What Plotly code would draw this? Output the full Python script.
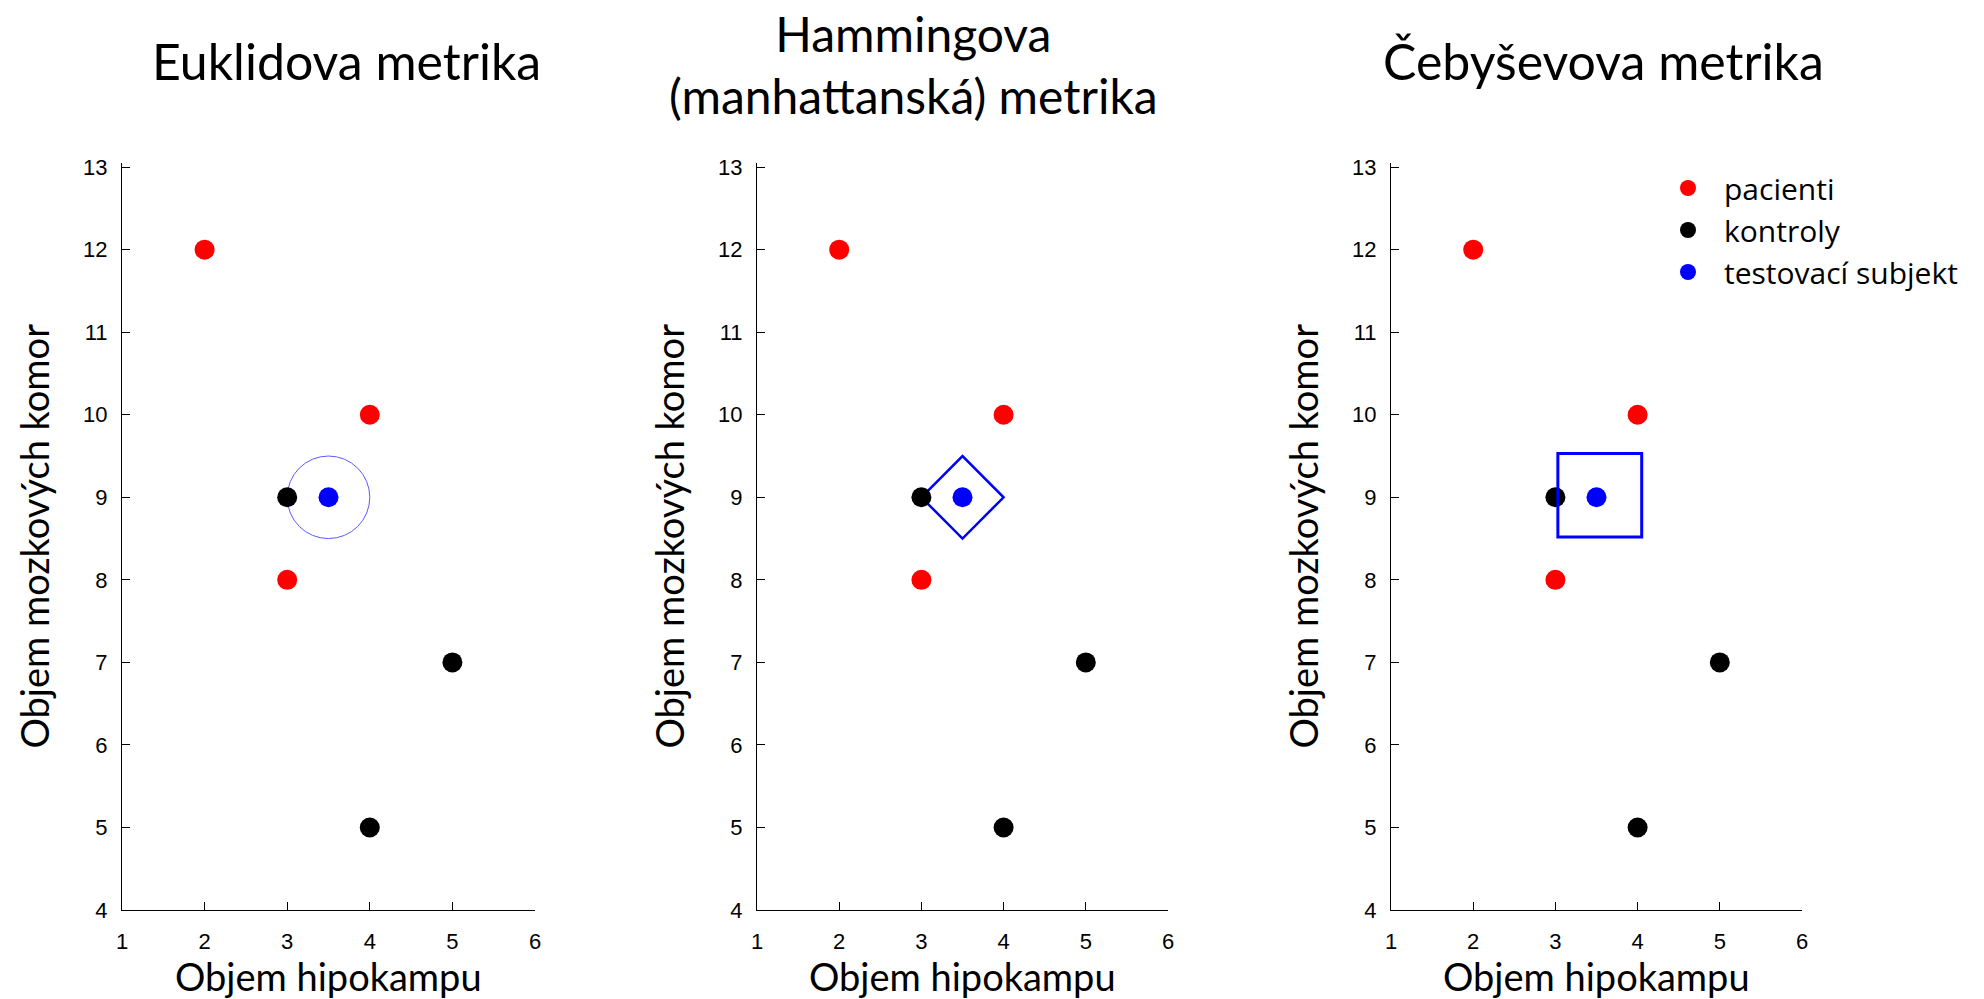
import plotly.graph_objects as go

# ---- data ----
pacienti_x = [2, 4, 3]
pacienti_y = [12, 10, 8]
kontroly_x = [3, 5, 4]
kontroly_y = [9, 7, 5]
test_x = [3.5]
test_y = [9]
radius = 0.5
square_bounds = [3.03, 8.52, 4.05, 9.53]  # x0, y0, x1, y1 (as drawn in reference)

titles = ["Euklidova metrika", "Hammingova<br>(manhattanská) metrika", "Čebyševova metrika"]
title_x_px = [346.7, 913, 1603.8]
title_y_px = [61, 64, 61]
title_size = [50, 48, 50]
xlabel = "Objem hipokampu"
ylabel = "Objem mozkových komor"
legend_names = ["pacienti", "kontroly", "testovací subjekt"]

W, H = 1984, 999
x_dom_px = [(122, 535), (757, 1168), (1391, 1802)]
y_dom_px = (910, 163)

TICKFONT = dict(family="Liberation Sans, Arial, sans-serif", size=22, color="black")
TXTFONT = "Lato, Open Sans, sans-serif"

fig = go.Figure()
for i in range(3):
    xa = "x" if i == 0 else f"x{i+1}"
    ya = "y" if i == 0 else f"y{i+1}"
    show = (i == 2)
    fig.add_trace(go.Scatter(x=pacienti_x, y=pacienti_y, mode="markers", name=legend_names[0],
                             marker=dict(color="#ff0000", size=20), xaxis=xa, yaxis=ya,
                             showlegend=show))
    fig.add_trace(go.Scatter(x=kontroly_x, y=kontroly_y, mode="markers", name=legend_names[1],
                             marker=dict(color="#000000", size=20), xaxis=xa, yaxis=ya,
                             showlegend=show))
    fig.add_trace(go.Scatter(x=test_x, y=test_y, mode="markers", name=legend_names[2],
                             marker=dict(color="#0000ff", size=20), xaxis=xa, yaxis=ya,
                             showlegend=show))

layout = {}
for i in range(3):
    kx = "xaxis" if i == 0 else f"xaxis{i+1}"
    ky = "yaxis" if i == 0 else f"yaxis{i+1}"
    yref = "y" if i == 0 else f"y{i+1}"
    xref = "x" if i == 0 else f"x{i+1}"
    layout[kx] = dict(domain=[x_dom_px[i][0] / W, x_dom_px[i][1] / W], range=[1, 6],
                      tickvals=[1, 2, 3, 4, 5, 6], showgrid=False, zeroline=False,
                      showline=True, linecolor="black", linewidth=1.2,
                      ticks="inside", ticklen=8, tickcolor="black", tickwidth=1.2,
                      tickfont=TICKFONT, anchor=yref, ticklabelstandoff=11, automargin=False)
    layout[ky] = dict(domain=[(H - y_dom_px[0]) / H, (H - y_dom_px[1]) / H], range=[4, 13.05],
                      tickvals=list(range(4, 14)), showgrid=False, zeroline=False,
                      showline=True, linecolor="black", linewidth=1.2,
                      ticks="inside", ticklen=8, tickcolor="black", tickwidth=1.2,
                      tickfont=TICKFONT, anchor=xref, ticklabelstandoff=9, automargin=False)

cx, cy = test_x[0], test_y[0]
shapes = [
    dict(type="circle", xref="x", yref="y", x0=cx - radius, x1=cx + radius,
         y0=cy - radius, y1=cy + radius, line=dict(color="rgb(90,90,255)", width=1), layer="below"),
    dict(type="path", xref="x2", yref="y2",
         path=f"M {cx - radius},{cy} L {cx},{cy + radius} L {cx + radius},{cy} L {cx},{cy - radius} Z",
         line=dict(color="#0000ff", width=2.5), layer="below"),
    dict(type="rect", xref="x3", yref="y3", x0=square_bounds[0], y0=square_bounds[1],
         x1=square_bounds[2], y1=square_bounds[3], line=dict(color="#0000ff", width=3), layer="above"),
]

annotations = []
for i in range(3):
    annotations.append(dict(text=titles[i], x=title_x_px[i] / W, y=(H - title_y_px[i]) / H,
                            xref="paper", yref="paper",
                            xanchor="center", yanchor="middle", showarrow=False,
                            font=dict(family=TXTFONT, size=title_size[i], color="black")))
    xc = (x_dom_px[i][0] + x_dom_px[i][1]) / 2
    annotations.append(dict(text=xlabel, x=xc / W, y=(H - 976) / H, xref="paper", yref="paper",
                            xanchor="center", yanchor="middle", showarrow=False,
                            font=dict(family=TXTFONT, size=38, color="black")))
    annotations.append(dict(text=ylabel, x=(x_dom_px[i][0] - 88) / W, y=(H - 536.5) / H,
                            xref="paper", yref="paper", textangle=-90,
                            xanchor="center", yanchor="middle", showarrow=False,
                            font=dict(family=TXTFONT, size=38, color="black")))

fig.update_layout(
    width=W, height=H, margin=dict(l=0, r=0, t=0, b=0, autoexpand=False),
    paper_bgcolor="white", plot_bgcolor="white",
    shapes=shapes, annotations=annotations,
    legend=dict(x=1652 / W, y=(H - 162) / H, xanchor="left", yanchor="top",
                font=dict(family="Open Sans, sans-serif", size=30, color="black"),
                itemwidth=62, bgcolor="rgba(0,0,0,0)", tracegroupgap=0),
    **layout,
)

fig.write_html("out.html", config={"displayModeBar": False},
               post_script="document.body.style.margin='0px';document.body.style.overflow='hidden';")
